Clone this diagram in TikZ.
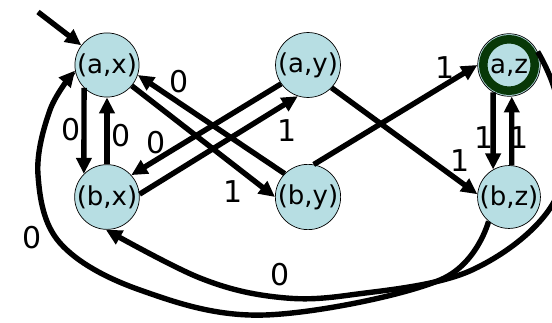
\documentclass[tikz,border=0pt]{standalone}
\usepackage{fontspec}
\setmainfont{DejaVu Sans}
\usetikzlibrary{arrows.meta}
\definecolor{nodefill}{RGB}{183,222,227}
\definecolor{ringgreen}{RGB}{8,56,8}
\begin{document}
\begin{tikzpicture}[x=1pt,y=-1pt,
  state/.style={circle,draw=black,line width=0.7pt,fill=nodefill,minimum size=61pt,inner sep=0pt,font=\fontsize{26}{26}\selectfont},
  ring/.style={draw=ringgreen,line width=8.5pt},
  edge/.style={line width=5.4pt,-{Triangle[length=16pt,width=15pt]}},
  lab/.style={font=\fontsize{30}{30}\selectfont,inner sep=0pt}]
\useasboundingbox (0,0) rectangle (552,323);
% states
\node[state] (ax) at (107,65) {(a,x)};
\node[state] (ay) at (308,65) {(a,y)};
\node[state] (az) at (509,65) {(a,z)};
\draw[ring] (az.center) circle[radius=25.75];
\node[state] (bx) at (107,197) {(b,x)};
\node[state] (by) at (308,197) {(b,y)};
\node[state] (bz) at (509,197) {(b,z)};
\coordinate (start) at (38,12);
% edges
\draw[edge] (start) -- (ax);
\draw[edge] (ax.-135) -- (bx.135);
\draw[edge] (bx.90) -- (ax.-90);
\draw[edge] (ax.-40) -- (by.180);
\draw[edge] (by.135) -- (ax.-18);
\draw[edge] (ay.-145) -- (bx.42);
\draw[edge] (bx.5) -- (ay.-108);
\draw[edge] (ay.-44) -- (bz.175);
\draw[edge] (by.80) -- (az.180);
\draw[edge] (az.-120) -- (bz.120);
\draw[edge] (bz.85) -- (az.-85);
\draw[edge] plot[smooth,tension=0.6] coordinates {(az.25) (558,105) (555,200) (472,270) (350,295) (276,297) (200,278) (bx.-92)};
\draw[edge] plot[smooth,tension=0.6] coordinates {(bz.-130) (440,280) (265,315) (140,290) (60,243) (38,175) (50,110) (ax.190)};
% labels
\node[lab] (l1) at (179,82) {0};
\node[lab] (l2) at (71,130) {0};
\node[lab] (l3) at (121,136) {0};
\node[lab] (l4) at (156,143) {0};
\node[lab] (l5) at (233,192) {1};
\node[lab] (l6) at (32,238) {0};
\node[lab] (l7) at (287,131) {1};
\node[lab] (l8) at (460,161) {1};
\node[lab] (l9) at (484,138) {1};
\node[lab] (l10) at (519,138) {1};
\node[lab] (l11) at (280,275) {0};
\node[lab] (l12) at (445,68) {1};
\end{tikzpicture}
\end{document}
